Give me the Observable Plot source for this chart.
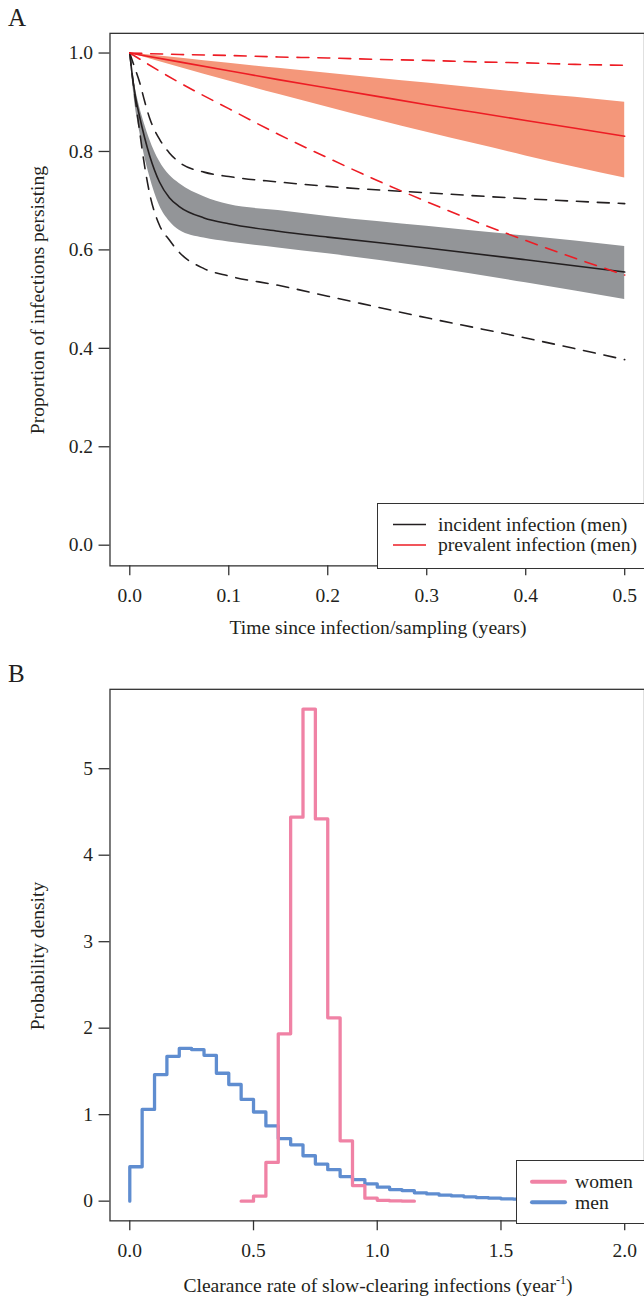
<!DOCTYPE html>
<html>
<head>
<meta charset="utf-8">
<script src="https://cdn.jsdelivr.net/npm/d3@7"></script>
<script src="https://cdn.jsdelivr.net/npm/@observablehq/plot@0.6"></script>
<style>
  html, body { margin: 0; padding: 0; background: #fff; overflow: hidden; }
  #root { position: relative; width: 644px; height: 1297px; overflow: hidden; font-family: "Liberation Serif", serif; color: #231f20; }
  .abs { position: absolute; white-space: nowrap; }
  .panel { position: absolute; left: 0; }
  .title { font-size: 19.6px; transform: translate(-50%, -50%); }
  .ytitle { font-size: 19.6px; transform: translate(-50%, -50%) rotate(-90deg); }
  .letter { font-size: 25px; line-height: 1; }
  .legend { position: absolute; background: #fff; border: 1.3px solid #333; box-sizing: border-box; }
  sup { font-size: 12px; }
</style>
</head>
<body>
<div id="root">
  <div class="abs letter" style="left:8px;top:5px;">A</div>
  <div class="abs letter" style="left:8px;top:661px;">B</div>
  <div id="pA" class="panel" style="top:0;"></div>
  <div id="pB" class="panel" style="top:650px;"></div>
  <div class="abs ytitle" style="left:38px;top:300px;">Proportion of infections persisting</div>
  <div class="abs title" style="left:378px;top:628px;">Time since infection/sampling (years)</div>
  <div class="abs ytitle" style="left:38px;top:956px;">Probability density</div>
  <div class="abs title" style="left:378px;top:1285px;">Clearance rate of slow-clearing infections (year<sup>-1</sup>)</div>
  <div class="legend" style="left:377px;top:503px;width:300px;height:66px;">
    <svg width="300" height="66" style="position:absolute;left:-1px;top:-1px;">
      <line x1="16" x2="49" y1="21.5" y2="21.5" stroke="#231f20" stroke-width="1.6"/>
      <line x1="16" x2="49" y1="42" y2="42" stroke="#ed1c24" stroke-width="1.6"/>
      <text x="61" y="27.8" font-family="Liberation Serif" font-size="19.6" fill="#231f20">incident infection (men)</text>
      <text x="61" y="48.3" font-family="Liberation Serif" font-size="19.6" fill="#231f20">prevalent infection (men)</text>
    </svg>
  </div>
  <div class="legend" style="left:516px;top:1160px;width:200px;height:64px;">
    <svg width="200" height="64" style="position:absolute;left:-1px;top:-1px;">
      <line x1="16" x2="49" y1="21.7" y2="21.7" stroke="#f082a5" stroke-width="4" stroke-linecap="round"/>
      <line x1="16" x2="49" y1="42.3" y2="42.3" stroke="#5f8dd0" stroke-width="4" stroke-linecap="round"/>
      <text x="59" y="28.3" font-family="Liberation Serif" font-size="19.6" fill="#231f20">women</text>
      <text x="59" y="48.8" font-family="Liberation Serif" font-size="19.6" fill="#231f20">men</text>
    </svg>
  </div>
</div>
<script>
// ---------- Panel A data ----------
const tInc = [0, 0.0025, 0.005, 0.01, 0.015, 0.02, 0.03, 0.04, 0.05, 0.075, 0.1, 0.15, 0.2, 0.3, 0.4, 0.5];
const incMid   = [1.0, 0.955, 0.92, 0.87, 0.828, 0.792, 0.738, 0.706, 0.688, 0.665, 0.653, 0.638, 0.626, 0.604, 0.580, 0.555];
const incBandHi = [1.0, 0.965, 0.935, 0.89, 0.855, 0.825, 0.78, 0.752, 0.735, 0.708, 0.692, 0.680, 0.668, 0.648, 0.628, 0.607];
const incBandLo = [1.0, 0.945, 0.90, 0.84, 0.79, 0.75, 0.69, 0.658, 0.64, 0.624, 0.616, 0.604, 0.592, 0.565, 0.533, 0.499];
const incDashHi = [1.0, 0.985, 0.97, 0.94, 0.902, 0.868, 0.825, 0.797, 0.778, 0.758, 0.749, 0.738, 0.729, 0.716, 0.704, 0.694];
const incDashLo = [1.0, 0.955, 0.915, 0.84, 0.77, 0.715, 0.65, 0.62, 0.595, 0.562, 0.547, 0.528, 0.506, 0.462, 0.421, 0.377];

const tPrev = [0, 0.05, 0.1, 0.15, 0.2, 0.25, 0.3, 0.35, 0.4, 0.45, 0.5];
const prevMid    = [1.0, 0.982, 0.964, 0.946, 0.929, 0.912, 0.895, 0.879, 0.863, 0.847, 0.831];
const prevBandHi = [1.0, 0.99, 0.979, 0.969, 0.959, 0.949, 0.939, 0.929, 0.919, 0.91, 0.90];
const prevBandLo = [1.0, 0.971, 0.943, 0.916, 0.89, 0.864, 0.839, 0.815, 0.791, 0.768, 0.746];
const prevDashHi = [1.0, 0.997, 0.995, 0.992, 0.99, 0.987, 0.985, 0.982, 0.98, 0.977, 0.975];
const prevDashLo = [1.0, 0.94, 0.887, 0.835, 0.787, 0.741, 0.698, 0.657, 0.619, 0.583, 0.549];

const xTicksA = [0, 0.1, 0.2, 0.3, 0.4, 0.5];
const yTicksA = [0, 0.2, 0.4, 0.6, 0.8, 1.0];

// ---------- Panel B data (histograms, bin width 0.05; left edges) ----------
const binWidth = 0.05;
const womenStart = 0.45;
const womenDensity = [0.0, 0.057, 0.448, 1.935, 4.44, 5.69, 4.42, 2.12, 0.697, 0.18, 0.034, 0.01, 0.003, 0.0];
const menStart = 0.0;
const menDensity = [0.398, 1.061, 1.464, 1.674, 1.766, 1.751, 1.686, 1.479, 1.349, 1.176, 1.031, 0.870, 0.724, 0.651,
  0.525, 0.429, 0.364, 0.284, 0.249, 0.199, 0.161, 0.134, 0.123, 0.096, 0.084, 0.069, 0.061, 0.050, 0.042, 0.034,
  0.027, 0.023, 0.019, 0.016, 0.013, 0.011, 0.009, 0.008, 0.006, 0.005];
const xTicksB = [0, 0.5, 1.0, 1.5, 2.0];
const yTicksB = [0, 1, 2, 3, 4, 5];

// ---------- helpers ----------
const pts = (ts, vs) => ts.map((t, i) => ({t, v: vs[i]}));
const band = (ts, lo, hi) => ts.map((t, i) => ({t, lo: lo[i], hi: hi[i]}));
const steps = (start, vals) => [{x: start, y: 0}, ...vals.map((v, i) => ({x: +(start + (i + 1) * binWidth).toFixed(4), y: v}))];

const ink = "#231f20";
const red = "#ed1c24";
const dash = "12,9";
const fontStyle = {fontFamily: "Liberation Serif", fontSize: "19.6px", color: ink, background: "transparent", overflow: "visible"};

const plotA = Plot.plot({
  width: 647, height: 650,
  marginTop: 33, marginBottom: 82, marginLeft: 110, marginRight: 0,
  style: fontStyle,
  x: {domain: [-0.02, 0.52]},
  y: {domain: [-0.042, 1.04]},
  marks: [
    Plot.areaY(band(tPrev, prevBandLo, prevBandHi), {x: "t", y1: "lo", y2: "hi", fill: "#f4977a", curve: "monotone-x"}),
    Plot.areaY(band(tInc, incBandLo, incBandHi), {x: "t", y1: "lo", y2: "hi", fill: "#939598", curve: "monotone-x"}),
    Plot.line(pts(tInc, incDashHi), {x: "t", y: "v", stroke: ink, strokeWidth: 1.6, strokeDasharray: dash, curve: "monotone-x"}),
    Plot.line(pts(tInc, incDashLo), {x: "t", y: "v", stroke: ink, strokeWidth: 1.6, strokeDasharray: dash, curve: "monotone-x"}),
    Plot.line(pts(tInc, incMid), {x: "t", y: "v", stroke: ink, strokeWidth: 1.6, curve: "monotone-x"}),
    Plot.line(pts(tPrev, prevDashHi), {x: "t", y: "v", stroke: red, strokeWidth: 1.6, strokeDasharray: dash, curve: "monotone-x"}),
    Plot.line(pts(tPrev, prevDashLo), {x: "t", y: "v", stroke: red, strokeWidth: 1.6, strokeDasharray: dash, curve: "monotone-x"}),
    Plot.line(pts(tPrev, prevMid), {x: "t", y: "v", stroke: red, strokeWidth: 1.6, curve: "monotone-x"}),
    Plot.frame({stroke: "#333", strokeWidth: 1.3}),
    Plot.axisX({ticks: xTicksA, tickFormat: d => d.toFixed(1), tickSize: 10, tickPadding: 12, label: null, stroke: "#333", strokeWidth: 1.3}),
    Plot.axisY({ticks: yTicksA, tickFormat: d => d.toFixed(1), tickSize: 11, tickPadding: 6, label: null, stroke: "#333", strokeWidth: 1.3})
  ]
});

const plotB = Plot.plot({
  width: 647, height: 647,
  marginTop: 39, marginBottom: 74, marginLeft: 110, marginRight: 0,
  style: fontStyle,
  x: {domain: [-0.08, 2.08]},
  y: {domain: [-0.2276, 5.918]},
  marks: [
    Plot.line(steps(menStart, menDensity), {x: "x", y: "y", stroke: "#5f8dd0", strokeWidth: 3.3, curve: "step-before"}),
    Plot.line(steps(womenStart, womenDensity), {x: "x", y: "y", stroke: "#f082a5", strokeWidth: 3.3, curve: "step-before"}),
    Plot.frame({stroke: "#333", strokeWidth: 1.3}),
    Plot.axisX({ticks: xTicksB, tickFormat: d => d.toFixed(1), tickSize: 10, tickPadding: 12, label: null, stroke: "#333", strokeWidth: 1.3}),
    Plot.axisY({ticks: yTicksB, tickFormat: d => String(d), tickSize: 11, tickPadding: 6, label: null, stroke: "#333", strokeWidth: 1.3})
  ]
});

document.getElementById("pA").appendChild(plotA);
document.getElementById("pB").appendChild(plotB);
</script>
</body>
</html>
